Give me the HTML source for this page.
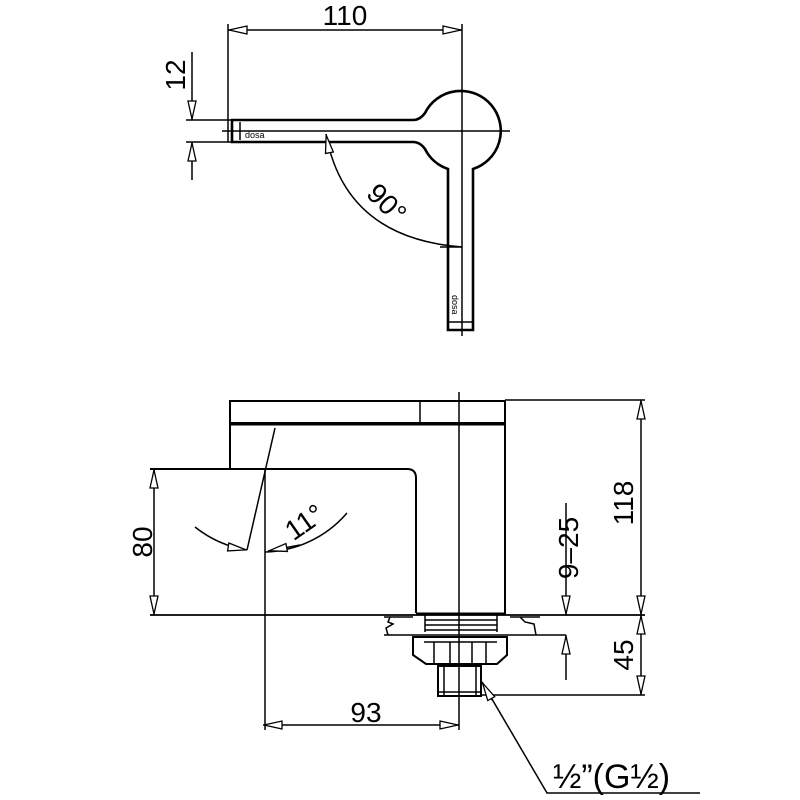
<!DOCTYPE html>
<html><head><style>body{margin:0;background:#fff}svg{display:block}</style></head>
<body>
<svg width="800" height="800" viewBox="0 0 800 800" xmlns="http://www.w3.org/2000/svg" font-family="Liberation Sans, sans-serif">
<defs>
<marker id="a" viewBox="0 0 20 10" refX="20" refY="5" markerWidth="20" markerHeight="10" markerUnits="userSpaceOnUse" orient="auto-start-reverse">
<path d="M1,1 L19,5 L1,9 Z" fill="#fff" stroke="#000" stroke-width="1.3"/>
</marker>
</defs>
<g stroke="#000" fill="none" stroke-width="1.5">
<!-- TOP VIEW -->
<line x1="228" y1="24" x2="228" y2="142"/>
<line x1="462" y1="24" x2="462" y2="336"/>
<line x1="228" y1="30" x2="462" y2="30" marker-start="url(#a)" marker-end="url(#a)"/>
<line x1="222" y1="131" x2="510" y2="131"/>
<path d="M232,120 L413,120 Q420,120 425,113 A40,40 0 1 1 473,169 L473,330 L448,330 L448,169 A40,40 0 0 1 425,149 Q420,142 413,142 L232,142 Z" stroke-width="2.6"/>
<line x1="448" y1="322" x2="473" y2="322"/>
<line x1="240" y1="122" x2="240" y2="140"/>
<line x1="186" y1="120" x2="232" y2="120"/>
<line x1="186" y1="142" x2="232" y2="142"/>
<line x1="192" y1="52" x2="192" y2="120" marker-end="url(#a)"/>
<line x1="192" y1="180" x2="192" y2="142" marker-end="url(#a)"/>
<path d="M326,134 Q345,238 462,247" marker-start="url(#a)"/>
<line x1="440" y1="247" x2="462" y2="247"/>
<!-- BOTTOM VIEW -->
<rect x="230" y="401" width="275" height="22" stroke-width="2"/>
<line x1="230" y1="424" x2="505" y2="424" stroke-width="3"/>
<line x1="420" y1="401" x2="420" y2="424"/>
<line x1="459" y1="392" x2="459" y2="730"/>
<line x1="230" y1="424" x2="230" y2="469" stroke-width="2"/>
<path d="M150,469 L407,469 Q416,469 416,478 L416,613" stroke-width="2"/>
<line x1="505" y1="424" x2="505" y2="615" stroke-width="2"/>
<line x1="505" y1="400" x2="645" y2="400"/>
<line x1="150" y1="615" x2="645" y2="615" stroke-width="1.8"/>
<line x1="416" y1="614" x2="505" y2="614" stroke-width="3"/>
<path d="M425,615 L425,632 M497,615 L497,632 M425,620 L497,620 M425,625 L497,625 M425,630 L497,630"/>
<path d="M384,617 L413,617 M384,635 L566,635 M510,617 L540,617 M390,617 L388,622 L393,624 L386,628 L388,635 M520,617 L525,622 L534,624 L536,635"/>
<path d="M413,637 L507,637 L507,655 L497,664 L426,664 L413,655 Z" stroke-width="2"/>
<path d="M424,642 L497,642 M434,642 L434,664 M450,642 L450,664 M472,642 L472,664 M486,642 L486,664"/>
<rect x="438" y="666" width="43" height="30" stroke-width="2"/>
<path d="M444,666 L444,696 M476,666 L476,696 M438,692 L481,692"/>
<line x1="481" y1="695" x2="645" y2="695"/>
<line x1="641" y1="400" x2="641" y2="615" marker-start="url(#a)" marker-end="url(#a)"/>
<line x1="641" y1="615" x2="641" y2="695" marker-start="url(#a)" marker-end="url(#a)"/>
<line x1="566" y1="503" x2="566" y2="615" marker-end="url(#a)"/>
<line x1="566" y1="680" x2="566" y2="635" marker-end="url(#a)"/>
<line x1="154" y1="469" x2="154" y2="615" marker-start="url(#a)" marker-end="url(#a)"/>
<line x1="265" y1="469" x2="265" y2="730"/>
<line x1="263" y1="725" x2="459" y2="725" marker-start="url(#a)" marker-end="url(#a)"/>
<line x1="275" y1="428" x2="247" y2="550"/>
<path d="M195,527 A112,112 0 0 0 247,550" marker-end="url(#a)"/>
<path d="M347,513 A112,112 0 0 1 265,552"/>
<path d="M300,545 L268,551" marker-end="url(#a)"/>
<path d="M482,682 L547,793 L700,793"/>
<path d="M492,700 L482,682" marker-end="url(#a)"/>
</g>
<g fill="#000" font-size="28">
<text x="345" y="25" text-anchor="middle">110</text>
<text transform="translate(185,75) rotate(-90)" text-anchor="middle">12</text>
<text transform="translate(380,210) rotate(45)" text-anchor="middle">90°</text>
<text transform="translate(633,503) rotate(-90)" text-anchor="middle">118</text>
<text transform="translate(633,655) rotate(-90)" text-anchor="middle">45</text>
<text transform="translate(578,548) rotate(-90)" text-anchor="middle">9–25</text>
<text transform="translate(152,542) rotate(-90)" text-anchor="middle">80</text>
<text transform="translate(310,530) rotate(-35)" text-anchor="middle">11°</text>
<text x="366" y="722" text-anchor="middle">93</text>
<text x="553" y="788" font-size="34">½”(G½)</text>
</g>
<g font-size="9" fill="#000">
<text x="245" y="138">dosa</text>
<text transform="translate(452,295) rotate(90)">dosa</text>
</g>
</svg>
</body></html>
